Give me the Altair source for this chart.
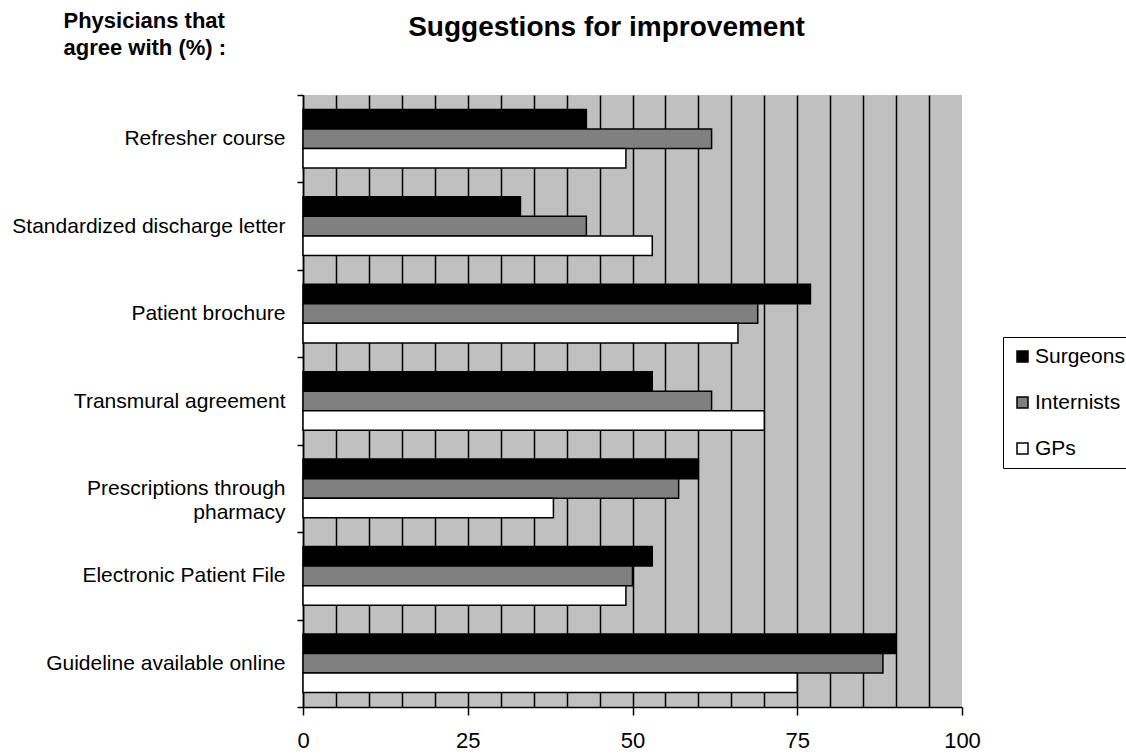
import altair as alt
import pandas as pd

categories = [
    "Refresher course",
    "Standardized discharge letter",
    "Patient brochure",
    "Transmural agreement",
    "Prescriptions through pharmacy",
    "Electronic Patient File",
    "Guideline available online",
]
groups = ["Surgeons", "Internists", "GPs"]
surgeons = [43, 33, 77, 53, 60, 53, 90]
internists = [62, 43, 69, 62, 57, 50, 88]
gps = [49, 53, 66, 70, 38, 49, 75]
x_ticks = list(range(0, 101, 5))

rows = []
for i, c in enumerate(categories):
    for g, vals in zip(groups, [surgeons, internists, gps]):
        rows.append({"category": c, "group": g, "value": vals[i]})
df = pd.DataFrame(rows)

FONT = "Liberation Sans"

label_expr = (
    "datum.label == 'Prescriptions through pharmacy' ? "
    "['Prescriptions through', 'pharmacy\u00a0\u00a0\u00a0\u00a0\u00a0\u00a0\u00a0\u00a0\u00a0'] : datum.label"
)

chart = (
    alt.Chart(df)
    .mark_bar(stroke="black", strokeWidth=1.5)
    .encode(
        y=alt.Y(
            "category:N",
            sort=categories,
            scale=alt.Scale(paddingInner=0, paddingOuter=0),
            axis=alt.Axis(
                title=["Physicians that", "agree with (%) :"],
                titleAngle=0,
                titleAlign="left",
                titleBaseline="top",
                titleX=-240,
                titleY=-85,
                titleFont=FONT,
                titleFontSize=22,
                titleFontWeight="bold",
                titleColor="black",
                titleLineHeight=27,
                labelFont=FONT,
                labelFontSize=21,
                labelColor="black",
                labelExpr=label_expr,
                labelLineHeight=24,
                labelPadding=12,
                tickBand="extent",
                tickSize=6,
                tickColor="black",
                tickWidth=1.5,
                domainColor="black",
                domainWidth=1.5,
                grid=False,
                labelLimit=400,
            ),
        ),
        yOffset=alt.YOffset(
            "group:N", sort=groups, scale=alt.Scale(paddingInner=0, paddingOuter=0.735)
        ),
        x=alt.X(
            "value:Q",
            scale=alt.Scale(domain=[0, 100], nice=False),
            axis=alt.Axis(
                title=None,
                values=x_ticks,
                labelExpr="datum.value % 25 === 0 ? datum.label : ''",
                labelFont=FONT,
                labelFontSize=22,
                labelColor="black",
                labelPadding=15,
                labelFlush=False,
                tickSize=8,
                tickColor="black",
                tickWidth=1.5,
                tickOpacity={"condition": {"test": "datum.value % 25 === 0", "value": 1}, "value": 0},
                domainColor="black",
                domainWidth=1.5,
                grid=True,
                gridColor="black",
                gridWidth=1.5,
                gridOpacity={"condition": {"test": "datum.value >= 100", "value": 0}, "value": 1},
            ),
        ),
        color=alt.Color(
            "group:N",
            sort=groups,
            scale=alt.Scale(domain=groups, range=["#000000", "#808080", "#ffffff"]),
            legend=alt.Legend(
                title=None,
                orient="none",
                legendX=700,
                legendY=242,
                direction="vertical",
                fillColor="white",
                strokeColor="black",
                padding=9,
                symbolType="square",
                symbolSize=121,
                symbolStrokeColor="black",
                symbolStrokeWidth=1.5,
                labelFont=FONT,
                labelFontSize=21,
                labelColor="black",
                labelOffset=2,
                rowPadding=24,
            ),
        ),
    )
    .properties(
        width=659,
        height=612,
        autosize=alt.AutoSizeParams(type="none"),
        padding={"left": 303, "top": 95, "right": 164, "bottom": 49},
        title=alt.Title(
            "Suggestions for improvement",
            font=FONT,
            fontSize=28,
            fontWeight="bold",
            color="black",
            anchor="middle",
            baseline="alphabetic",
            dx=-26,
            dy=55,
            offset=0,
        ),
    )
    .configure(background="white")
    .configure_view(fill="#c0c0c0", strokeWidth=0)
)

chart.save("out.html", embed_options={"renderer": "svg", "actions": False})
